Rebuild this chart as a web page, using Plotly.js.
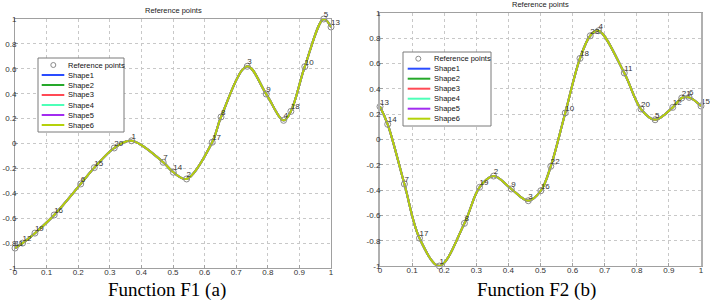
<!DOCTYPE html>
<html><head><meta charset="utf-8">
<script src="https://cdn.plot.ly/plotly-3.0.1.min.js"></script>
<style>html,body{margin:0;padding:0;background:#fff}#chart{width:710px;height:302px}</style>
</head><body><div id="chart"></div>
<script>
// ---- Data ----
const f1Labels = ['11','12','19','16','6','15','20','1','7','14','2','17','8','3','9','4','18','10','5','13'];
const f1X = [0, 0.024, 0.063, 0.124, 0.208, 0.251, 0.314, 0.369, 0.469, 0.501, 0.543, 0.624, 0.652, 0.735, 0.795, 0.850, 0.873, 0.917, 0.977, 1.0];
const f1Y = [-0.84, -0.80, -0.72, -0.574, -0.325, -0.194, -0.036, 0.022, -0.151, -0.231, -0.285, 0.01, 0.213, 0.62, 0.397, 0.186, 0.258, 0.617, 1.0, 0.936];

const f2Labels = ['13','14','7','17','1','8','19','2','9','3','16','22','10','18','23','4','11','20','5','12','21','6','15'];
const f2X = [0, 0.024, 0.076, 0.123, 0.185, 0.263, 0.310, 0.354, 0.409, 0.462, 0.501, 0.532, 0.577, 0.623, 0.655, 0.681, 0.761, 0.813, 0.857, 0.912, 0.940, 0.963, 1.0];
const f2Y = [0.26, 0.12, -0.352, -0.78, -1.0, -0.663, -0.378, -0.289, -0.391, -0.484, -0.405, -0.212, 0.21, 0.641, 0.82, 0.86, 0.526, 0.241, 0.156, 0.254, 0.328, 0.333, 0.265];

const refName = 'Reference points';
const shapeNames = ['Shape1','Shape2','Shape3','Shape4','Shape5','Shape6'];
const shapeColors = ['#2a4cff','#25a82a','#ff4a55','#4dffb8','#a22cf0','#b4d20a'];

const xTickVals = [0,0.1,0.2,0.3,0.4,0.5,0.6,0.7,0.8,0.9,1];
const xTickText = ['0','0.1','0.2','0.3','0.4','0.5','0.6','0.7','0.8','0.9','1'];
const yTickVals = [-1,-0.8,-0.6,-0.4,-0.2,0,0.2,0.4,0.6,0.8,1];
const yTickText = ['-1','-0.8','-0.6','-0.4','-0.2','0','0.2','0.4','0.6','0.8','1'];

const panelTitles = ['Reference points','Reference points'];
const captions = ['Function F1 (a)','Function F2 (b)'];

// ---- Build ----
const W = 710, H = 302;
const px = v => v / W;
const py = v => 1 - v / H;
const sans = 'Liberation Sans, Arial, sans-serif';

const traces = [];
function addPanel(xs, ys, labels, xa, ya) {
  shapeNames.forEach((n, i) => {
    traces.push({type:'scatter', mode:'lines', x: xs, y: ys, name: n, xaxis: xa, yaxis: ya,
      line:{color: shapeColors[i], width: 2, shape:'spline', smoothing: 1}, showlegend:false, hoverinfo:'skip'});
  });
  traces.push({type:'scatter', mode:'markers', x: xs, y: ys, name: refName, xaxis: xa, yaxis: ya, cliponaxis:false,
    marker:{symbol:'circle-open', size:6, color:'#8a8a8a', line:{width:1, color:'#8a8a8a'}}, showlegend:false});
  traces.push({type:'scatter', mode:'text', x: xs, y: ys, text: labels, name: refName + ' labels',
    xaxis: xa, yaxis: ya, textposition:'top right', cliponaxis:false,
    textfont:{family: sans, size:8, color:'#333'}, showlegend:false});
}
addPanel(f1X, f1Y, f1Labels, 'x', 'y');
addPanel(f2X, f2Y, f2Labels, 'x2', 'y2');

const axisCommon = {
  showgrid:true, gridcolor:'#c8c8c8', griddash:'dot', gridwidth:1,
  showline:true, mirror:true, linecolor:'#a0a0a0', linewidth:1,
  ticks:'inside', ticklen:3, tickcolor:'#a0a0a0', ticklabelstandoff:-4,
  tickfont:{family: sans, size:8, color:'#333'},
  zeroline:false, automargin:false, fixedrange:true
};
const xAx = d => Object.assign({}, axisCommon, {domain:d, range:[0,1], tickmode:'array', tickvals:xTickVals, ticktext:xTickText});
const yAx = d => Object.assign({}, axisCommon, {domain:d, range:[-1,1], tickmode:'array', tickvals:yTickVals, ticktext:yTickText});

const shapes = [];
const annotations = [];
function legendDecor(box, rowY0, rowStep, lineX0, lineX1, markerX, textX) {
  shapes.push({type:'rect', xref:'paper', yref:'paper', x0:px(box[0]), x1:px(box[1]), y0:py(box[3]), y1:py(box[2]),
    fillcolor:'#fff', line:{color:'#7a7a7a', width:1}, layer:'above'});
  shapes.push({type:'circle', xref:'paper', yref:'paper', x0:px(markerX-2.5), x1:px(markerX+2.5), y0:py(rowY0+2.5), y1:py(rowY0-2.5),
    line:{color:'#8a8a8a', width:1}, layer:'above'});
  annotations.push({xref:'paper', yref:'paper', x:px(textX), y:py(rowY0), text:refName, showarrow:false,
    xanchor:'left', yanchor:'middle', font:{family: sans, size:7.5, color:'#111'}});
  shapeNames.forEach((n, i) => {
    const yy = rowY0 + rowStep*(i+1);
    shapes.push({type:'line', xref:'paper', yref:'paper', x0:px(lineX0), x1:px(lineX1), y0:py(yy), y1:py(yy),
      line:{color:shapeColors[i], width:2}, layer:'above'});
    annotations.push({xref:'paper', yref:'paper', x:px(textX), y:py(yy), text:n, showarrow:false,
      xanchor:'left', yanchor:'middle', font:{family: sans, size:7.5, color:'#111'}});
  });
}
legendDecor([38,124,58,132], 65, 10, 41.7, 64.3, 53.3, 66);
legendDecor([403,491,52,126], 58.7, 10, 407.7, 430.3, 418.3, 431.5);

annotations.push({xref:'paper', yref:'paper', x:px(173), y:py(11), text:panelTitles[0], showarrow:false,
  xanchor:'center', yanchor:'middle', font:{family: sans, size:7.5, color:'#222'}});
annotations.push({xref:'paper', yref:'paper', x:px(540), y:py(4.5), text:panelTitles[1], showarrow:false,
  xanchor:'center', yanchor:'middle', font:{family: sans, size:7.5, color:'#222'}});
annotations.push({xref:'paper', yref:'paper', x:px(167), y:py(290), text:captions[0], showarrow:false,
  xanchor:'center', yanchor:'middle', font:{family:'Liberation Serif, Times New Roman, serif', size:19, color:'#000'}});
annotations.push({xref:'paper', yref:'paper', x:px(536.5), y:py(289.5), text:captions[1], showarrow:false,
  xanchor:'center', yanchor:'middle', font:{family:'Liberation Serif, Times New Roman, serif', size:19, color:'#000'}});

const layout = {
  width: W, height: H,
  margin:{l:0, r:0, t:0, b:0},
  paper_bgcolor:'#fff', plot_bgcolor:'#fff',
  showlegend:false,
  xaxis: Object.assign(xAx([px(15), px(331)]), {anchor:'y'}),
  yaxis: Object.assign(yAx([py(268), py(19)]), {anchor:'x'}),
  xaxis2: Object.assign(xAx([px(380), px(701)]), {anchor:'y2'}),
  yaxis2: Object.assign(yAx([py(266), py(13)]), {anchor:'x2', linewidth:2, linecolor:'#b0b0b0'}),
  shapes, annotations
};
Plotly.newPlot('chart', traces, layout, {displayModeBar:false, staticPlot:true});
</script></body></html>
